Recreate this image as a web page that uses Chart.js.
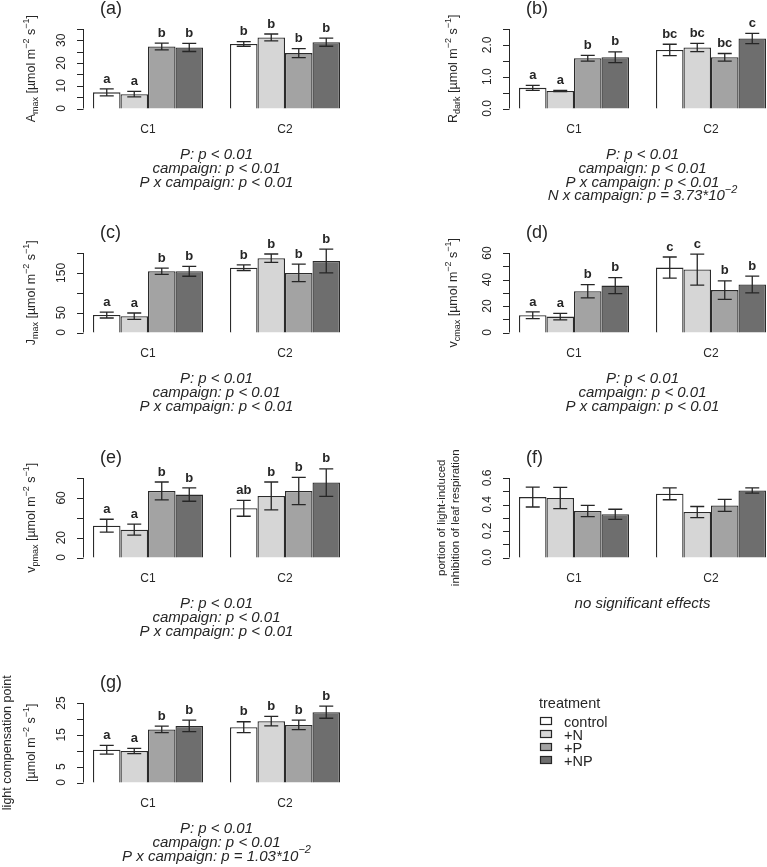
<!DOCTYPE html>
<html>
<head>
<meta charset="utf-8">
<script src="https://cdn.jsdelivr.net/npm/chart.js@4.4.1/dist/chart.umd.min.js"></script>
<style>
html,body{margin:0;padding:0;background:#fff;overflow:hidden;width:767px;height:867px}
canvas{position:absolute}
</style>
</head>
<body>
<script>
const treatments = ["control","+N","+P","+NP"];
const campaigns = ["C1","C2"];
const barColors = ["#ffffff","#d6d6d6","#a3a3a3","#6e6e6e"];

// every series is per treatment: [C1, C2]
const amaxMean = [[7.1,28.4],[6.3,31.3],[27.3,24.4],[26.9,29.2]];
const amaxErr = [[1.5,1.0],[1.2,1.5],[1.5,2.0],[1.8,1.8]];
const amaxLetters = [["a","b"],["a","b"],["b","b"],["b","b"]];
const amaxTicks = [0,5,10,15,20,25,30,35];
const amaxTickLabels = ["0","10","20","30"];

const rdarkMean = [[0.65,1.84],[0.55,1.92],[1.58,1.61],[1.61,2.20]];
const rdarkErr = [[0.08,0.18],[0.02,0.13],[0.09,0.12],[0.17,0.16]];
const rdarkLetters = [["a","bc"],["a","bc"],["b","bc"],["b","c"]];
const rdarkTicks = [0,0.5,1,1.5,2,2.5];
const rdarkTickLabels = ["0.0","1.0","2.0"];

const jmaxMean = [[44,163],[41,187],[154,150],[154,180]];
const jmaxErr = [[7.5,7],[8,10.5],[8,22],[12.5,30]];
const jmaxLetters = [["a","b"],["a","b"],["b","b"],["b","b"]];
const jmaxTicks = [0,50,100,150,200];
const jmaxTickLabels = ["0","50","150"];

const vcmaxMean = [[13,49],[12,47.5],[31.1,32],[35.4,36.2]];
const vcmaxErr = [[2.5,8],[2.5,11.7],[5,7],[6,6.3]];
const vcmaxLetters = [["a","c"],["a","c"],["b","b"],["b","b"]];
const vcmaxTicks = [0,10,20,30,40,50,60];
const vcmaxTickLabels = ["0","20","40","60"];

const vpmaxMean = [[32,49.5],[28,62],[67,67],[63.3,75.4]];
const vpmaxErr = [[6.5,8],[5.5,14],[9,13.7],[6.7,13.8]];
const vpmaxLetters = [["a","ab"],["a","b"],["b","b"],["b","b"]];
const vpmaxTicks = [0,20,40,60,80];
const vpmaxTickLabels = ["0","20","60"];

const inhibMean = [[0.456,0.481],[0.449,0.343],[0.351,0.393],[0.326,0.506]];
const inhibErr = [[0.075,0.045],[0.08,0.042],[0.042,0.045],[0.038,0.02]];
const inhibTicks = [0,0.1,0.2,0.3,0.4,0.5,0.6];
const inhibTickLabels = ["0.0","0.2","0.4","0.6"];

const lcpMean = [[10.3,17.4],[9.9,19.3],[16.7,18.1],[17.8,22.1]];
const lcpErr = [[1.4,1.7],[0.8,1.5],[1.0,1.5],[1.8,1.9]];
const lcpLetters = [["a","b"],["a","b"],["b","b"],["b","b"]];
const lcpTicks = [0,5,10,15,20,25];
const lcpTickLabels = ["0","5","15","25"];

const statsBase = ["P: p < 0.01","campaign: p < 0.01","P x campaign: p < 0.01"];
const statsB = statsBase.concat(["N x campaign: p = 3.73*10^{−2}"]);
const statsF = ["no significant effects"];
const statsG = ["P: p < 0.01","campaign: p < 0.01","P x campaign: p = 1.03*10^{−2}"];

const unit = " [µmol m^{−2} s^{−1}]";
const panels = [
  {tag:"(a)",col:0,row:0,mean:amaxMean,err:amaxErr,letters:amaxLetters,ticks:amaxTicks,tickLabels:amaxTickLabels,ylab:["A_{max}"+unit],ylabX:[32],ylabSize:12.5,stats:statsBase},
  {tag:"(b)",col:1,row:0,mean:rdarkMean,err:rdarkErr,letters:rdarkLetters,ticks:rdarkTicks,tickLabels:rdarkTickLabels,ylab:["R_{dark}"+unit],ylabX:[28],ylabSize:12.5,stats:statsB},
  {tag:"(c)",col:0,row:1,mean:jmaxMean,err:jmaxErr,letters:jmaxLetters,ticks:jmaxTicks,tickLabels:jmaxTickLabels,ylab:["J_{max}"+unit],ylabX:[32],ylabSize:12.5,stats:statsBase},
  {tag:"(d)",col:1,row:1,mean:vcmaxMean,err:vcmaxErr,letters:vcmaxLetters,ticks:vcmaxTicks,tickLabels:vcmaxTickLabels,ylab:["v_{cmax}"+unit],ylabX:[28],ylabSize:12.5,stats:statsBase},
  {tag:"(e)",col:0,row:2,mean:vpmaxMean,err:vpmaxErr,letters:vpmaxLetters,ticks:vpmaxTicks,tickLabels:vpmaxTickLabels,ylab:["v_{pmax}"+unit],ylabX:[32],ylabSize:12.5,stats:statsBase},
  {tag:"(f)",col:1,row:2,mean:inhibMean,err:inhibErr,letters:null,ticks:inhibTicks,tickLabels:inhibTickLabels,ylab:["portion of light-induced","inhibition of leaf respiration"],ylabX:[16,30],ylabSize:11.5,stats:statsF},
  {tag:"(g)",col:0,row:3,mean:lcpMean,err:lcpErr,letters:lcpLetters,ticks:lcpTicks,tickLabels:lcpTickLabels,ylab:["light compensation point","[µmol m^{−2} s^{−1}]"],ylabX:[8,32],ylabSize:12.5,stats:statsG,legend:true}
];

const FONT = '"Liberation Sans", Arial, sans-serif';
const INK = "#262626";
const rowTop = [0,224,449,674];
const colLeft = [0,426];
const OFF = 20; // canvas starts this far above its row

function parseRich(s){
  const out = []; const re = /([_^])\{([^}]*)\}/g; let last = 0, m;
  while((m = re.exec(s))){
    if(m.index > last) out.push({t:s.slice(last,m.index),k:""});
    out.push({t:m[2],k:m[1]});
    last = re.lastIndex;
  }
  if(last < s.length) out.push({t:s.slice(last),k:""});
  return out;
}

// centred at x, middle baseline
function drawRich(ctx, s, x, y, size, style){
  const segs = parseRich(s);
  const fontOf = k => `${style} ${k ? Math.round(size*0.72) : size}px ${FONT}`;
  let w = 0;
  segs.forEach(g=>{ ctx.font = fontOf(g.k); g.w = ctx.measureText(g.t).width; w += g.w; });
  let cx = x - w/2;
  ctx.textAlign = "left"; ctx.textBaseline = "middle";
  segs.forEach(g=>{
    ctx.font = fontOf(g.k);
    const dy = g.k==="^" ? -size*0.4 : g.k==="_" ? size*0.3 : 0;
    ctx.fillText(g.t, cx, y+dy);
    cx += g.w;
  });
}

function makeDeco(p){
  return {
    id:"deco"+p.tag,
    afterDraw(chart){
      const ctx = chart.ctx;
      const ys = chart.scales.y;
      const area = chart.chartArea;
      const axisX = 83;
      ctx.save();
      ctx.fillStyle = INK; ctx.strokeStyle = INK;

      // error bars + letters
      ctx.lineWidth = 1.3;
      chart.data.datasets.forEach((ds,di)=>{
        chart.getDatasetMeta(di).data.forEach((bar,i)=>{
          const m = ds.data[i], e = p.err[di][i];
          const yt = ys.getPixelForValue(m+e), yb = ys.getPixelForValue(m-e);
          ctx.beginPath();
          ctx.moveTo(bar.x, yt); ctx.lineTo(bar.x, yb);
          ctx.moveTo(bar.x-7, yt); ctx.lineTo(bar.x+7, yt);
          ctx.moveTo(bar.x-7, yb); ctx.lineTo(bar.x+7, yb);
          ctx.stroke();
          if(p.letters){
            ctx.font = `bold 13px ${FONT}`;
            ctx.textAlign = "center"; ctx.textBaseline = "middle";
            ctx.fillText(p.letters[di][i], bar.x, yt-10);
          }
        });
      });

      // y axis
      ctx.lineWidth = 1;
      const y0 = ys.getPixelForValue(p.ticks[0]);
      const y1 = ys.getPixelForValue(p.ticks[p.ticks.length-1]);
      ctx.beginPath();
      ctx.moveTo(axisX+0.5, y0); ctx.lineTo(axisX+0.5, y1);
      p.ticks.forEach(v=>{
        const yy = Math.round(ys.getPixelForValue(v))+0.5;
        ctx.moveTo(axisX+0.5, yy); ctx.lineTo(axisX-6, yy);
      });
      ctx.stroke();
      ctx.font = `12px ${FONT}`;
      ctx.textAlign = "center"; ctx.textBaseline = "middle";
      p.tickLabels.forEach(t=>{
        const yy = ys.getPixelForValue(parseFloat(t));
        ctx.save(); ctx.translate(axisX-21, yy); ctx.rotate(-Math.PI/2);
        ctx.fillText(t, 0, 0); ctx.restore();
      });

      // y label
      const yc = (area.top+area.bottom)/2;
      p.ylab.forEach((s,k)=>{
        ctx.save(); ctx.translate(p.ylabX[k], yc); ctx.rotate(-Math.PI/2);
        drawRich(ctx, s, 0, 0, p.ylabSize, "normal"); ctx.restore();
      });

      // category labels
      ctx.font = `12px ${FONT}`;
      ctx.textAlign = "center"; ctx.textBaseline = "middle";
      chart.scales.x.ticks.forEach((t,i)=>{
        ctx.fillText(campaigns[i], chart.scales.x.getPixelForTick(i), OFF+130);
      });

      // panel tag
      ctx.font = `18px ${FONT}`;
      ctx.textAlign = "left";
      ctx.fillText(p.tag, 100, OFF+9);

      // statistics
      const sx = (chart.getDatasetMeta(0).data[0].x + chart.getDatasetMeta(3).data[1].x)/2;
      p.stats.forEach((s,k)=> drawRich(ctx, s, sx, OFF+155+k*13.7, 15, "italic"));

      // legend
      if(p.legend){
        ctx.font = `14.5px ${FONT}`;
        ctx.textAlign = "left"; ctx.textBaseline = "middle";
        ctx.fillText("treatment", 539, OFF+30);
        chart.data.datasets.forEach((ds,di)=>{
          const by = OFF + 47 + di*13;
          ctx.fillStyle = ds.backgroundColor;
          ctx.fillRect(540.5, by-3.5, 11, 7);
          ctx.strokeStyle = INK; ctx.lineWidth = 1.2;
          ctx.strokeRect(540.5, by-3.5, 11, 7);
          ctx.fillStyle = INK;
          ctx.fillText(ds.label, 564, by+1.5);
        });
      }
      ctx.restore();
    }
  };
}

panels.forEach(p=>{
  const c = document.createElement("canvas");
  const w = p.legend ? 767 : 384, h = 245;
  c.width = w; c.height = h;
  c.style.left = colLeft[p.col]+"px"; c.style.top = (rowTop[p.row]-OFF)+"px";
  c.style.width = w+"px"; c.style.height = h+"px";
  document.body.appendChild(c);

  new Chart(c, {
    type:"bar",
    data:{
      labels:campaigns,
      datasets:treatments.map((t,di)=>({
        label:t,
        data:p.mean[di],
        backgroundColor:barColors[di],
        borderColor:"#2b2b2b",
        borderWidth:1.3,
        categoryPercentage:0.803,
        barPercentage:1,
        clip:false
      }))
    },
    options:{
      responsive:false,
      animation:false,
      layout:{padding:{left:79.5, right:w-353.5, top:OFF+29, bottom:h-OFF-108.5}},
      plugins:{legend:{display:false}, tooltip:{enabled:false}},
      scales:{
        x:{display:false, offset:true},
        y:{display:false, min:0, max:p.ticks[p.ticks.length-1]}
      }
    },
    plugins:[makeDeco(p)]
  });
});
</script>
</body>
</html>
